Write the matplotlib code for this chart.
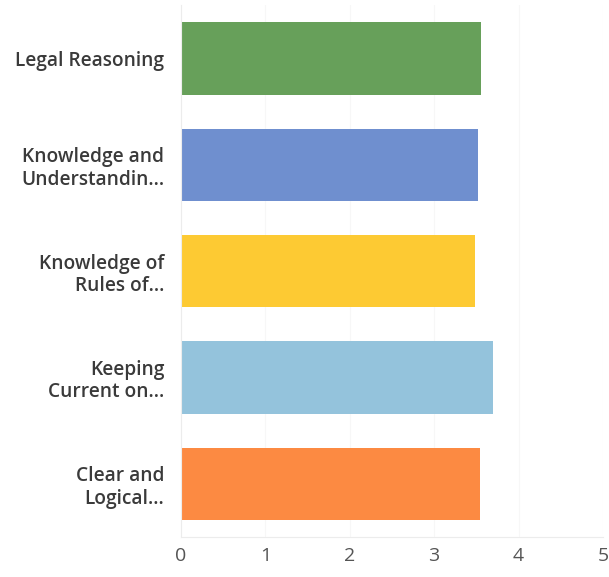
import matplotlib.pyplot as plt

categories = [
    "Legal Reasoning",
    "Knowledge and\nUnderstandin...",
    "Knowledge of\nRules of...",
    "Keeping\nCurrent on...",
    "Clear and\nLogical...",
]
scores = [3.55, 3.52, 3.49, 3.70, 3.54]
colors = ["#67a05a", "#6f8fcf", "#fdca33", "#94c3dc", "#fc8a42"]
ticks = [0, 1, 2, 3, 4, 5]

fig = plt.figure(figsize=(6.09, 5.77), dpi=100)
ax = fig.add_axes([0.297, 0.069, 0.693, 0.922])

ypos = list(range(len(categories)))
ax.barh(ypos, scores, height=0.68, color=colors, zorder=2)

ax.set_xlim(0, 5)
ax.set_ylim(len(categories) - 0.5, -0.5)
ax.set_xticks(ticks)
ax.set_xticklabels([str(t) for t in ticks], fontsize=14, color="#555555",
                   family="Open Sans")
ax.set_yticks(ypos)
ax.set_yticklabels(categories, fontsize=13.8, color="#3a3a3a",
                   family="Open Sans", fontweight="semibold", linespacing=1.15)
ax.tick_params(axis="both", length=0)
ax.tick_params(axis="x", pad=7)
ax.tick_params(axis="y", pad=12)

ax.grid(axis="x", color="#f7f7f7", linewidth=0.8, zorder=0)
for side in ["top", "right"]:
    ax.spines[side].set_visible(False)
ax.spines["left"].set_color("#ececec")
ax.spines["bottom"].set_color("#ececec")

fig.savefig("out.png", dpi=100)
